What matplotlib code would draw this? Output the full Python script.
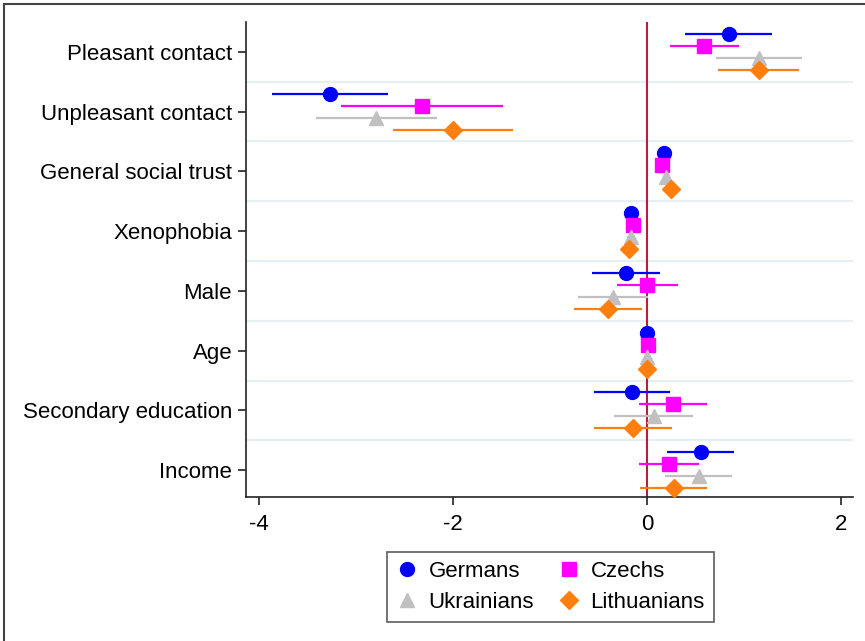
import matplotlib.pyplot as plt
import numpy as np
from matplotlib.patches import Rectangle
from matplotlib.lines import Line2D

plt.rcParams["font.family"] = ["Liberation Sans", "DejaVu Sans"]
plt.rcParams["axes.unicode_minus"] = False

variables = ["Pleasant contact", "Unpleasant contact", "General social trust",
             "Xenophobia", "Male", "Age", "Secondary education", "Income"]
groups = ["Germans", "Czechs", "Ukrainians", "Lithuanians"]

germans = [0.84, -3.26, 0.17, -0.16, -0.22, 0.00, -0.15, 0.56]
germans_lo = [0.39, -3.86, 0.13, -0.20, -0.57, -0.01, -0.55, 0.21]
germans_hi = [1.29, -2.67, 0.21, -0.12, 0.13, 0.01, 0.24, 0.90]

czechs = [0.59, -2.32, 0.15, -0.14, 0.00, 0.01, 0.27, 0.23]
czechs_lo = [0.24, -3.15, 0.11, -0.18, -0.31, 0.00, -0.08, -0.08]
czechs_hi = [0.95, -1.48, 0.19, -0.10, 0.32, 0.02, 0.62, 0.54]

ukrainians = [1.15, -2.79, 0.20, -0.17, -0.35, 0.00, 0.07, 0.54]
ukrainians_lo = [0.71, -3.41, 0.16, -0.21, -0.71, -0.01, -0.34, 0.19]
ukrainians_hi = [1.60, -2.16, 0.24, -0.13, 0.01, 0.01, 0.47, 0.88]

lithuanians = [1.15, -2.00, 0.25, -0.19, -0.40, 0.00, -0.14, 0.28]
lithuanians_lo = [0.73, -2.62, 0.21, -0.23, -0.75, -0.01, -0.55, -0.07]
lithuanians_hi = [1.57, -1.38, 0.29, -0.15, -0.05, 0.01, 0.26, 0.62]

series = [
    (germans, germans_lo, germans_hi, "#0000ff", "o", 10),
    (czechs, czechs_lo, czechs_hi, "#ff00ff", "s", 9.5),
    (ukrainians, ukrainians_lo, ukrainians_hi, "#c0c0c0", "^", 10),
    (lithuanians, lithuanians_lo, lithuanians_hi, "#ff7f0e", "D", 9.5),
]
offsets = [-0.3, -0.1, 0.1, 0.3]

fig = plt.figure(figsize=(8.65, 6.41), dpi=100)
ax = fig.add_axes([0.2844, 0.2246, 0.7016, 0.7411])

y = np.arange(len(variables))
for k in range(len(y) - 1):
    ax.axhline(k + 0.5, color="#e6eff1", lw=1.6, zorder=0)
ax.axvline(0, color="#b81d3c", lw=1.5, zorder=1)

handles = {}
for (vals, lo, hi, col, mk, ms), off, name in zip(series, offsets, groups):
    yy = y + off
    ax.hlines(yy, lo, hi, color=col, lw=1.6, zorder=2)
    ax.plot(vals, yy, ls="none", marker=mk, color=col, ms=ms, mec=col, zorder=3)
    handles[name] = Line2D([], [], ls="none", marker=mk, color=col, ms=ms, label=name)

ax.set_ylim(len(variables) - 0.55, -0.5)
ax.set_xlim(-4.13, 2.12)
ax.set_yticks(y)
ax.set_yticklabels(variables)
ax.set_xticks([-4, -2, 0, 2])
ax.tick_params(axis="both", labelsize=16, length=6, width=1.2, color="#222222")
ax.tick_params(axis="y", pad=4)
ax.tick_params(axis="x", pad=6)
for s in ["top", "right"]:
    ax.spines[s].set_visible(False)
for s in ["left", "bottom"]:
    ax.spines[s].set_linewidth(1.2)
    ax.spines[s].set_color("#222222")

# matplotlib fills legend columns first
order = ["Germans", "Ukrainians", "Czechs", "Lithuanians"]
leg = fig.legend(handles=[handles[n] for n in order], ncol=2, loc="center",
                 bbox_to_anchor=(550.5 / 865, 1 - 587 / 641), fontsize=16,
                 frameon=True, fancybox=False, edgecolor="#333333",
                 handletextpad=0.45, columnspacing=1.1, labelspacing=0.45,
                 handlelength=1.0, borderpad=0.4)
leg.get_frame().set_linewidth(1.2)

fig.patches.append(Rectangle((4 / 865, -0.05), 1.1, 1 - 4 / 641 + 0.05,
                             transform=fig.transFigure, fill=False,
                             edgecolor="#444444", lw=1.5))

fig.savefig("out.png", dpi=100)
